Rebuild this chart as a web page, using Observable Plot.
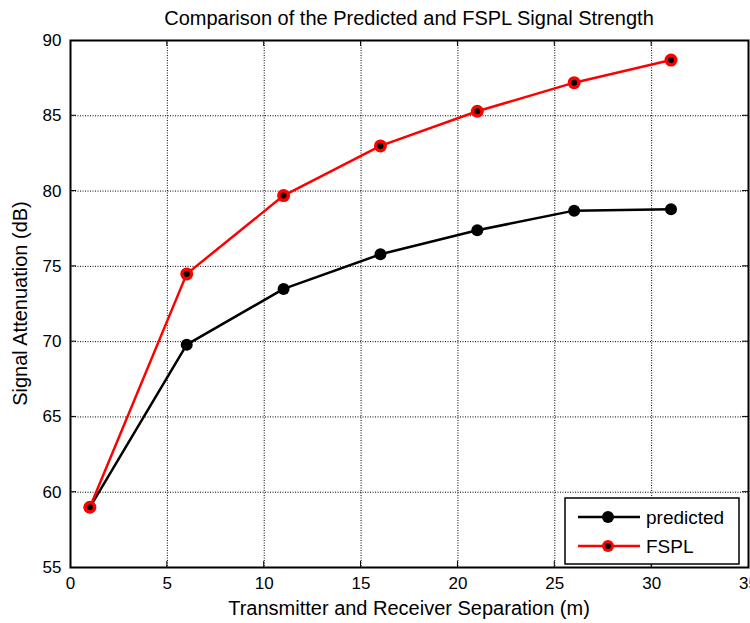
<!DOCTYPE html>
<html>
<head>
<meta charset="utf-8">
<script src="https://cdn.jsdelivr.net/npm/d3@7"></script>
<script src="https://cdn.jsdelivr.net/npm/@observablehq/plot@0.6"></script>
<style>
  html, body { margin: 0; padding: 0; background: #fff; }
  #chart { width: 750px; height: 623px; }
</style>
</head>
<body>
<div id="chart"></div>
<script>
const separation = [1, 6, 11, 16, 21, 26, 31];
const predicted = [59.0, 69.8, 73.5, 75.8, 77.4, 78.7, 78.8];
const fspl = [59.0, 74.5, 79.7, 83.0, 85.3, 87.2, 88.7];
const xTicks = [0, 5, 10, 15, 20, 25, 30, 35];
const yTicks = [55, 60, 65, 70, 75, 80, 85, 90];
const seriesNames = ["predicted", "FSPL"];
const titleText = "Comparison of the Predicted and FSPL Signal Strength";
const xLabel = "Transmitter and Receiver Separation (m)";
const yLabel = "Signal Attenuation (dB)";

const predData = separation.map((x, i) => ({x, y: predicted[i]}));
const fsplData = separation.map((x, i) => ({x, y: fspl[i]}));

const W = 750, H = 623;
const mL = 70, mR = 2, mT = 40, mB = 56;
const font = "'Liberation Sans', Arial, sans-serif";

const plot = Plot.plot({
  width: W,
  height: H,
  marginLeft: mL,
  marginRight: mR,
  marginTop: mT,
  marginBottom: mB,
  style: {background: "#fff", fontSize: "17px", fontFamily: font, color: "#000"},
  x: {domain: [0, 35], ticks: xTicks},
  y: {domain: [55, 90], ticks: yTicks},
  marks: [
    Plot.gridX(xTicks.slice(1, -1), {stroke: "#000", strokeOpacity: 1, strokeWidth: 1, strokeDasharray: "1,1.5"}),
    Plot.gridY(yTicks.slice(1, -1), {stroke: "#000", strokeOpacity: 1, strokeWidth: 1, strokeDasharray: "1,1.5"}),
    Plot.axisX({ticks: xTicks, tickSize: 0, tickPadding: 9, fontSize: 17, label: null}),
    Plot.axisY({ticks: yTicks, tickSize: 0, tickPadding: 9, fontSize: 17, label: null}),
    Plot.frame({stroke: "#000", strokeWidth: 2}),
    Plot.line(predData, {x: "x", y: "y", stroke: "#000", strokeWidth: 2.5}),
    Plot.dot(predData, {x: "x", y: "y", r: 6, fill: "#000", stroke: "none"}),
    Plot.line(fsplData, {x: "x", y: "y", stroke: "#f00", strokeWidth: 2.5}),
    Plot.dot(fsplData, {x: "x", y: "y", r: 6.5, fill: "#f00", stroke: "none"}),
    Plot.dot(fsplData, {x: "x", y: "y", r: 3, fill: "#000", stroke: "none"})
  ]
});

document.getElementById("chart").appendChild(plot);

const svg = d3.select(plot);
const plotW = W - mL - mR, plotH = H - mT - mB;
const cx = mL + plotW / 2;

// inward tick marks (MATLAB style)
const g = svg.append("g").attr("stroke", "#000").attr("stroke-width", 1);
xTicks.slice(1, -1).forEach(t => {
  const px = mL + (t - 0) / 35 * plotW;
  g.append("line").attr("x1", px).attr("x2", px).attr("y1", H - mB).attr("y2", H - mB - 6);
  g.append("line").attr("x1", px).attr("x2", px).attr("y1", mT).attr("y2", mT + 6);
});
yTicks.slice(1, -1).forEach(t => {
  const py = mT + (90 - t) / 35 * plotH;
  g.append("line").attr("x1", mL).attr("x2", mL + 6).attr("y1", py).attr("y2", py);
  g.append("line").attr("x1", W - mR).attr("x2", W - mR - 6).attr("y1", py).attr("y2", py);
});

function label(x, y, rot, txt) {
  svg.append("text")
    .attr("transform", `translate(${x},${y}) rotate(${rot})`)
    .attr("text-anchor", "middle")
    .attr("font-family", font).attr("font-size", 20).attr("fill", "#000").text(txt);
}
label(cx, 25, 0, titleText);
label(cx, 615, 0, xLabel);
label(27, mT + plotH / 2, -90, yLabel);

// legend
const lg = svg.append("g");
lg.append("rect").attr("x", 565).attr("y", 498).attr("width", 174).attr("height", 66)
  .attr("fill", "#fff").attr("stroke", "#000").attr("stroke-width", 1.5);
const items = [
  {name: seriesNames[0], color: "#000", y: 517, center: false},
  {name: seriesNames[1], color: "#f00", y: 546, center: true}
];
items.forEach(it => {
  lg.append("line").attr("x1", 578).attr("x2", 640).attr("y1", it.y).attr("y2", it.y)
    .attr("stroke", it.color).attr("stroke-width", 2.5);
  lg.append("circle").attr("cx", 608).attr("cy", it.y).attr("r", 6).attr("fill", it.color);
  if (it.center) lg.append("circle").attr("cx", 608).attr("cy", it.y).attr("r", 3).attr("fill", "#000");
  lg.append("text").attr("x", 646).attr("y", it.y + 7).attr("text-anchor", "start")
    .attr("font-family", font).attr("font-size", 19)
    .attr("fill", "#000").text(it.name);
});
</script>
</body>
</html>
